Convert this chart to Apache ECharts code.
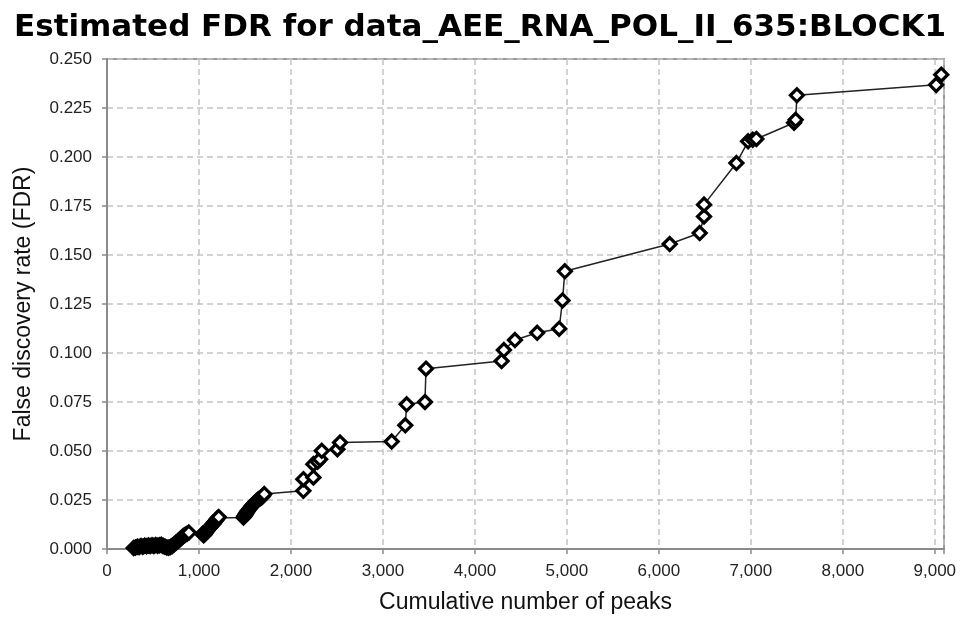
<!DOCTYPE html>
<html>
<head>
<meta charset="utf-8">
<script src="https://cdn.jsdelivr.net/npm/echarts@6/dist/echarts.min.js"></script>
<style>
  html, body { margin: 0; padding: 0; background: #fff; }
  #paint { width: 960px; height: 619px; }
</style>
</head>
<body>
<div id="paint"></div>
<script>
// cumulative number of peaks (x) and estimated FDR (y)
var peaks = [
    290, 310, 330, 350, 370, 390, 410, 430, 450, 470,
    490, 510, 530, 550, 570, 590, 610, 630, 650, 670,
    690, 710, 730, 750, 770, 790, 810, 830, 850, 870,
    890, 1040, 1050, 1060, 1068, 1075, 1083, 1090, 1098, 1105,
    1112, 1120, 1130, 1140, 1150, 1158, 1166, 1175, 1185, 1195,
    1205, 1215, 1484, 1495, 1505, 1512, 1520, 1532, 1545, 1560,
    1575, 1588, 1600, 1615, 1629, 1642, 1655, 1670, 1683, 1697,
    1710, 2135, 2135, 2244, 2244, 2290, 2317, 2335, 2505, 2534,
    3095, 3243, 3258, 3457, 3468, 4290, 4315, 4435, 4677, 4916,
    4952, 4978, 6118, 6444, 6491, 6491, 6843, 6970, 7020, 7060,
    7470, 7487, 7501, 9015, 9070
];
var fdr = [
    0.0005, 0.0008, 0.0012, 0.0010, 0.0015, 0.0012, 0.0017, 0.0014, 0.0018, 0.0015,
    0.0019, 0.0016, 0.0020, 0.0017, 0.0019, 0.0021, 0.0016, 0.0012, 0.0008, 0.0006,
    0.0010, 0.0016, 0.0024, 0.0032, 0.0040, 0.0048, 0.0057, 0.0066, 0.0073, 0.0078,
    0.0084, 0.0078, 0.0070, 0.0074, 0.0080, 0.0085, 0.0090, 0.0095, 0.0099, 0.0103,
    0.0107, 0.0111, 0.0116, 0.0121, 0.0126, 0.0130, 0.0135, 0.0140, 0.0147, 0.0153,
    0.0158, 0.0163, 0.0161, 0.0168, 0.0175, 0.0181, 0.0187, 0.0195, 0.0203, 0.0212,
    0.0221, 0.0227, 0.0233, 0.0240, 0.0246, 0.0251, 0.0256, 0.0260, 0.0264, 0.0272,
    0.0280, 0.0297, 0.0356, 0.0365, 0.0433, 0.0445, 0.0458, 0.0501, 0.0509, 0.0543,
    0.0548, 0.0631, 0.0738, 0.0750, 0.0920, 0.0959, 0.1015, 0.1066, 0.1103, 0.1124,
    0.1268, 0.1417, 0.1556, 0.1612, 0.1697, 0.1757, 0.1969, 0.2080, 0.2088, 0.2092,
    0.2175, 0.2190, 0.2315, 0.2368, 0.2420
];

function commas(v){
    return String(v).replace(/\B(?=(\d{3})+(?!\d))/g, ',');
}

function paint(){
    var chart = echarts.init(document.getElementById("paint"));
    var points = [];
    for (var i = 0; i < peaks.length; i++) {
        points.push([peaks[i], fdr[i]]);
    }

    var option = {
        animation: false,
        title: {
            text: 'Estimated FDR for data_AEE_RNA_POL_II_635:BLOCK1',
            left: 9,
            top: 7,
            textStyle: {
                fontFamily: 'DejaVu Sans',
                fontWeight: 'bold',
                fontSize: 31,
                color: '#000'
            }
        },
        grid: {
            left: 107,
            right: 16,
            top: 59,
            bottom: 69,
            show: true,
            borderColor: '#9a9a9a',
            borderWidth: 2
        },
        xAxis: {
            type: 'value',
            min: 0,
            max: 9100,
            interval: 1000,
            name: 'Cumulative number of peaks',
            nameLocation: 'middle',
            nameGap: 42,
            nameTextStyle: {
                fontFamily: 'Liberation Sans',
                fontSize: 23,
                color: '#111'
            },
            axisLine: { lineStyle: { color: '#8a8a8a', width: 2 } },
            axisTick: { show: true, length: 5, lineStyle: { color: '#8a8a8a', width: 1.5 } },
            axisLabel: {
                margin: 14,
                fontFamily: 'Liberation Sans',
                fontSize: 17,
                color: '#222',
                formatter: function (v) {
                    return v % 1000 === 0 ? commas(v) : '';
                }
            },
            splitLine: { show: true, lineStyle: { color: '#c4c4c4', type: [6, 4], width: 1.5 } }
        },
        yAxis: {
            type: 'value',
            min: 0,
            max: 0.25,
            interval: 0.025,
            name: 'False discovery rate (FDR)',
            nameLocation: 'middle',
            nameGap: 72,
            nameTextStyle: {
                fontFamily: 'Liberation Sans',
                fontSize: 23,
                color: '#111'
            },
            axisLine: { show: true, lineStyle: { color: '#8a8a8a', width: 2 } },
            axisTick: { show: true, length: 5, lineStyle: { color: '#8a8a8a', width: 1.5 } },
            axisLabel: {
                margin: 15,
                fontFamily: 'Liberation Sans',
                fontSize: 17,
                color: '#222',
                formatter: function (v) {
                    return v.toFixed(3);
                }
            },
            splitLine: { show: true, lineStyle: { color: '#c4c4c4', type: [6, 4], width: 1.5 } }
        },
        series: [{
            type: 'line',
            data: points,
            clip: true,
            symbol: 'diamond',
            symbolSize: 13,
            lineStyle: { color: '#222', width: 1.5 },
            itemStyle: {
                color: '#fff',
                borderColor: '#000',
                borderWidth: 3.2
            }
        }]
    };

    chart.setOption(option);
}

paint();
</script>
</body>
</html>
